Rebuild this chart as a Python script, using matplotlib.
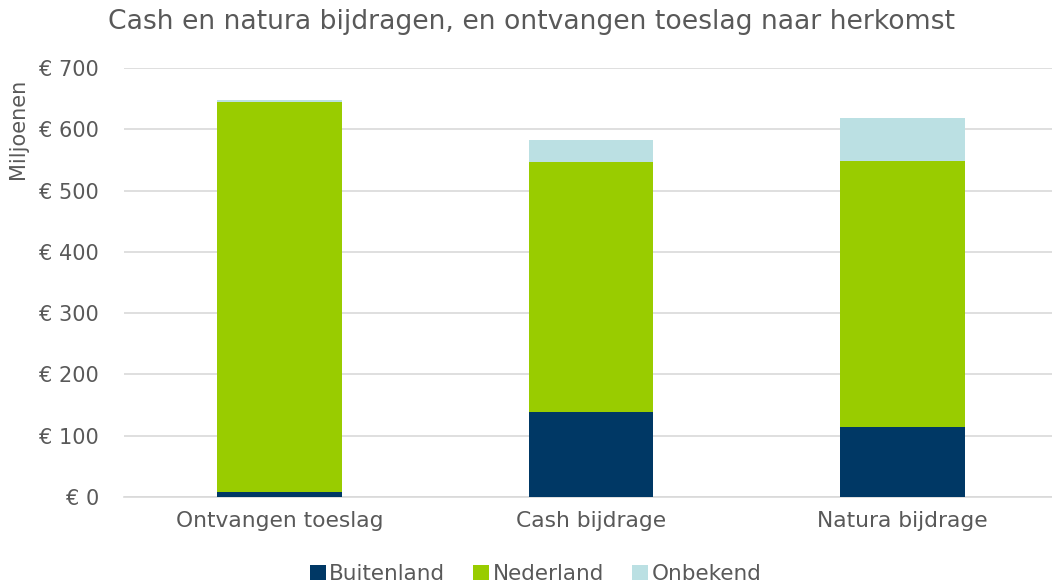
import matplotlib.pyplot as plt
import numpy as np

categories = ['Ontvangen toeslag', 'Cash bijdrage', 'Natura bijdrage']
buitenland = [8, 139, 115]
nederland = [636, 408, 433]
onbekend = [4, 35, 71]
yticks = [0, 100, 200, 300, 400, 500, 600, 700]

gray = '#595959'
fig = plt.figure(figsize=(10.52, 5.88), dpi=100)
ax = fig.add_axes([124 / 1052, 1 - 497 / 588, 928 / 1052, 429 / 588])

x = np.arange(len(categories))
b = np.array(buitenland)
n = np.array(nederland)
o = np.array(onbekend)
w = 0.40
ax.bar(x, b, w, color='#003865', label='Buitenland', zorder=3)
ax.bar(x, n, w, bottom=b, color='#99CC00', label='Nederland', zorder=3)
ax.bar(x, o, w, bottom=b + n, color='#BBE0E3', label='Onbekend', zorder=3)

ax.set_xlim(-0.5, 2.48)
ax.set_ylim(0, 700)
ax.set_yticks(yticks)
ax.set_yticklabels([f'€ {v}' for v in yticks])
ax.set_xticks(x)
ax.set_xticklabels(categories)
ax.tick_params(axis='both', length=0, labelsize=15, labelcolor=gray)
ax.tick_params(axis='x', labelsize=15.7, pad=10)
ax.tick_params(axis='y', pad=18)
ax.grid(axis='y', color='#D9D9D9', linewidth=1.2, zorder=0)
for s in ['top', 'right', 'left']:
    ax.spines[s].set_visible(False)
ax.spines['bottom'].set_color('#D9D9D9')
ax.spines['bottom'].set_linewidth(1.2)

fig.text(0.505, 1 - 22 / 588, 'Cash en natura bijdragen, en ontvangen toeslag naar herkomst',
         ha='center', va='center', fontsize=19.2, color=gray)
fig.text(18 / 1052, 1 - 129 / 588, 'Miljoenen', rotation=90, ha='center', va='center',
         fontsize=15, color=gray)

fig.legend(loc='center', bbox_to_anchor=(0.509, 1 - 574 / 588), ncol=3, frameon=False,
           fontsize=15.5, labelcolor=gray, handlelength=0.75, handleheight=0.75,
           handletextpad=0.15, columnspacing=1.3)

fig.savefig('out.png', dpi=100)
